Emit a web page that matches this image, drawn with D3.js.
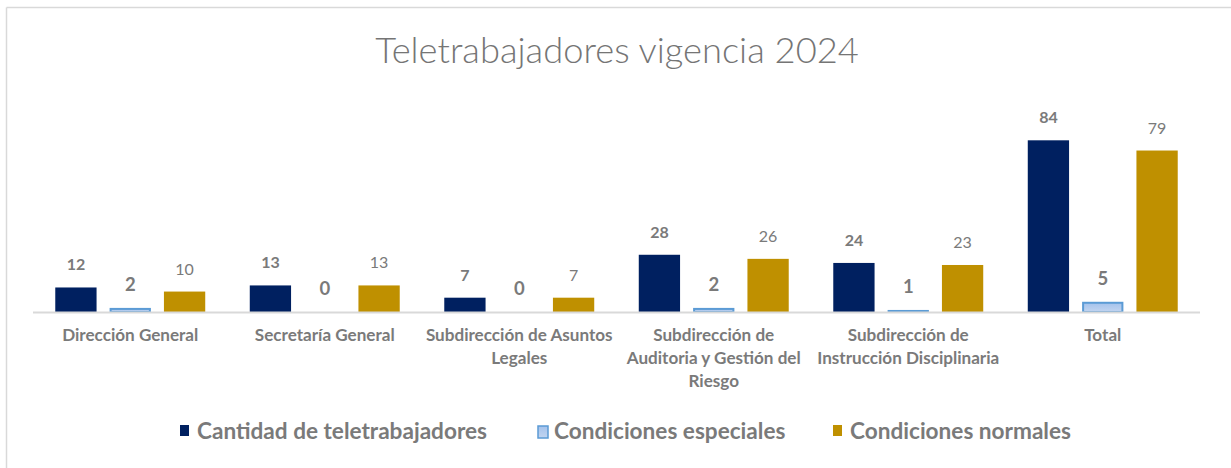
<!DOCTYPE html>
<html><head><meta charset="utf-8">
<script src="https://cdn.jsdelivr.net/npm/d3@7"></script>
<style>body{margin:0;background:#fff}svg{display:block}</style>
</head><body>
<script>
const categories = ["Dirección General","Secretaría General","Subdirección de Asuntos Legales","Subdirección de Auditoria y Gestión del Riesgo","Subdirección de Instrucción Disciplinaria","Total"];
const categoryLines = [["Dirección General"],["Secretaría General"],["Subdirección de Asuntos","Legales"],["Subdirección de","Auditoria y Gestión del","Riesgo"],["Subdirección de","Instrucción Disciplinaria"],["Total"]];
const seriesNames = ["Cantidad de teletrabajadores","Condiciones especiales","Condiciones normales"];
const cantidad = [12,13,7,28,24,84];
const especiales = [2,0,0,2,1,5];
const normales = [10,13,7,26,23,79];
const title = "Teletrabajadores vigencia 2024";

const W=1231,H=468;
const svg=d3.select("body").append("svg").attr("width",W).attr("height",H);
const font="Lato, 'Open Sans', sans-serif";
const gray="#7a7a7a";
// frame
svg.append("line").attr("x1",6.5).attr("x2",W).attr("y1",7.5).attr("y2",7.5).attr("stroke","#d9d9d9").attr("stroke-width",1.5);
svg.append("line").attr("x1",6.5).attr("x2",6.5).attr("y1",7.5).attr("y2",H).attr("stroke","#d9d9d9").attr("stroke-width",1.5);

svg.append("text").attr("x",617).attr("y",63).attr("text-anchor","middle")
  .attr("font-family",font).attr("font-size",36.3).attr("font-weight",300).attr("fill","#757575").text(title);

const x0=d3.scaleBand().domain(categories).range([33,1200]).paddingInner(0.229).paddingOuter(0.1145);
const x1=d3.scaleBand().domain(seriesNames).range([0,x0.bandwidth()]).paddingInner(0.24);
const y=d3.scaleLinear().domain([0,90]).range([312,312-90*2.044]);

const series=[cantidad,especiales,normales];
const fills=["#002060","url(#lb)","#bf9000"];
const defs=svg.append("defs");
const lg=defs.append("linearGradient").attr("id","lb").attr("x1",0).attr("y1",0).attr("x2",0).attr("y2",1);
lg.append("stop").attr("offset","0").attr("stop-color","#a4c2ec");
lg.append("stop").attr("offset","1").attr("stop-color","#c2d5f0");

const rows=[];
categories.forEach((c,i)=>series.forEach((s,j)=>rows.push({c,j,name:seriesNames[j],v:s[i]})));

const g=svg.append("g");
g.selectAll("rect").data(rows.filter(d=>d.v>0)).join("rect")
  .attr("x",d=>x0(d.c)+x1(d.name)+(d.j===1?1:0))
  .attr("width",d=>x1.bandwidth()-(d.j===1?2:0))
  .attr("y",d=>y(d.v)+(d.j===1?1:0))
  .attr("height",d=>y(0)-y(d.v)-(d.j===1?1:0))
  .attr("fill",d=>fills[d.j])
  .attr("stroke",d=>d.j===1?"#5b9bd5":"none")
  .attr("stroke-width",2);

// baseline
svg.append("line").attr("x1",33).attr("x2",1200).attr("y1",y(0)+0.5).attr("y2",y(0)+0.5).attr("stroke","#d9d9d9").attr("stroke-width",2);

// labels
g.selectAll("text.v").data(rows).join("text").attr("class","v")
  .attr("x",d=>x0(d.c)+x1(d.name)+x1.bandwidth()/2)
  .attr("y",d=>y(d.v)-17)
  .attr("text-anchor","middle").attr("font-family",font)
  .attr("font-size",d=>d.j===1?18.5:16)
  .attr("font-weight",d=>d.j===2?400:700)
  .attr("fill",gray).text(d=>d.v);

// category labels
const cg=svg.append("g");
categories.forEach((c,i)=>{
  const t=cg.append("text").attr("x",x0(c)+x0.bandwidth()/2).attr("y",341)
    .attr("text-anchor","middle").attr("font-family",font).attr("font-size",17.1).attr("font-weight",700).attr("fill",gray);
  categoryLines[i].forEach((l,k)=>t.append("tspan").attr("x",x0(c)+x0.bandwidth()/2).attr("y",341+k*23).text(l));
});

// legend
const legendX=[180,537,833];
const lgd=svg.append("g");
seriesNames.forEach((n,j)=>{
  const gx=legendX[j];
  lgd.append("rect").attr("x",gx+(j===1?1:0)).attr("y",425+(j===1?1:0)).attr("width",j===1?10:9).attr("height",j===1?12:11)
   .attr("fill",fills[j]).attr("stroke",j===1?"#5b9bd5":"none").attr("stroke-width",1.5);
  lgd.append("text").attr("x",gx+17).attr("y",439).attr("font-family",font).attr("font-size",22.6).attr("font-weight",700)
   .attr("fill",gray).text(n);
});
</script>
</body></html>
